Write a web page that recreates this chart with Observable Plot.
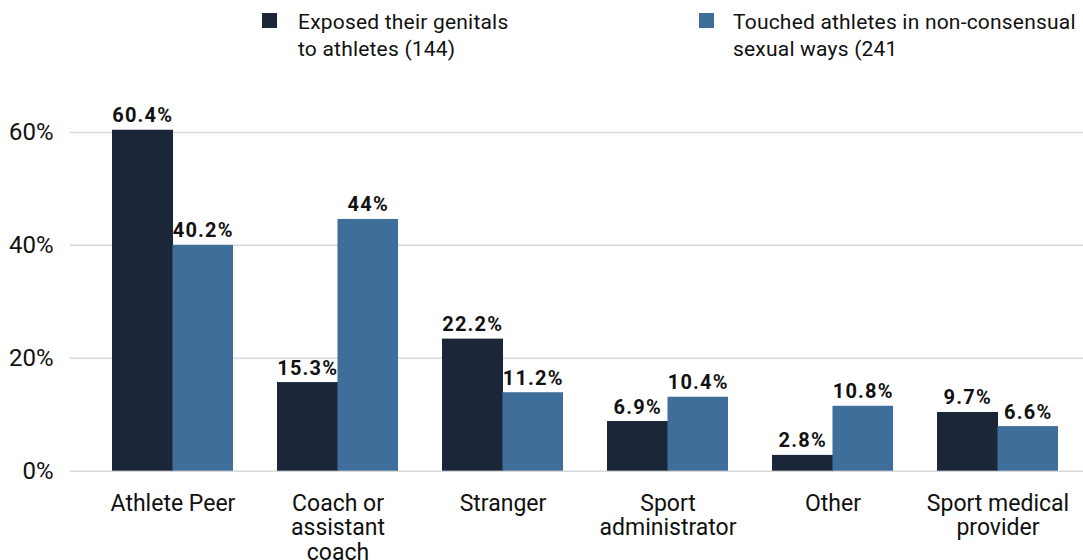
<!DOCTYPE html>
<html>
<head>
<meta charset="utf-8">
<script src="https://cdn.jsdelivr.net/npm/d3@7"></script>
<script src="https://cdn.jsdelivr.net/npm/@observablehq/plot@0.6"></script>
<style>
  html, body { margin: 0; padding: 0; background: #fff; }
  body { width: 1083px; height: 560px; overflow: hidden; font-family: Roboto, "Noto Sans", sans-serif; color: #111; }
  #legend { position: relative; height: 90px; }
  .swatch { position: absolute; top: 13px; width: 15px; height: 15px; }
  .ltext { position: absolute; top: 9px; font-size: 21px; line-height: 27px; letter-spacing: 0.2px; white-space: nowrap; color: #111; }
  #chart svg { display: block; }
</style>
</head>
<body>
<div id="legend"></div>
<div id="chart"></div>
<script>
const categories = ["Athlete Peer", "Coach or assistant coach", "Stranger", "Sport administrator", "Other", "Sport medical provider"];
const categoryLines = ["Athlete Peer", "Coach or\nassistant\ncoach", "Stranger", "Sport\nadministrator", "Other", "Sport medical\nprovider"];
const seriesNames = ["Exposed their genitals\nto athletes (144)", "Touched athletes in non-consensual\nsexual ways (241"];
const seriesColors = ["#1c2639", "#406e9a"];
// bar heights as drawn in the picture (%)
const exposedValues = [60.4, 15.7, 23.4, 8.8, 2.8, 10.4];
const touchedValues = [40.0, 44.6, 13.9, 13.1, 11.5, 7.9];
// printed labels
const exposedLabels = ["60.4%", "15.3%", "22.2%", "6.9%", "2.8%", "9.7%"];
const touchedLabels = ["40.2%", "44%", "11.2%", "10.4%", "10.8%", "6.6%"];
const yTicks = [0, 20, 40, 60];

// legend
const legend = document.getElementById("legend");
const swatchX = [262, 699];
const textX = [298, 733];
seriesNames.forEach((name, i) => {
  const sw = document.createElement("div");
  sw.className = "swatch";
  sw.style.left = swatchX[i] + "px";
  sw.style.background = seriesColors[i];
  legend.appendChild(sw);
  const t = document.createElement("div");
  t.className = "ltext";
  t.style.left = textX[i] + "px";
  t.innerHTML = name.split("\n").join("<br>");
  legend.appendChild(t);
});

const exposedRows = categories.map((c, i) => ({category: c, value: exposedValues[i], label: exposedLabels[i]}));
const touchedRows = categories.map((c, i) => ({category: c, value: touchedValues[i], label: touchedLabels[i]}));
const labelRows = categories.map((c, i) => ({category: c, text: categoryLines[i]}));

const W = 1083, H = 470, mL = 70, mR = 0;
const pIn = 0.267, pOut = 0.203;
const step = (W - mL - mR) / (categories.length - pIn + 2 * pOut);
const half = step * (1 - pIn) / 2;

const chart = Plot.plot({
  width: W,
  height: H,
  marginLeft: mL,
  marginRight: mR,
  marginTop: 42,
  marginBottom: 89.3,
  style: {fontFamily: "Roboto, 'Noto Sans', sans-serif", fontSize: "24px", color: "#111", background: "#fff"},
  x: {domain: categories, paddingInner: pIn, paddingOuter: pOut, align: 0.62, axis: null},
  y: {domain: [0, 60], ticks: yTicks, tickFormat: d => d + "%", tickSize: 0, tickPadding: 17, label: null},
  marks: [
    Plot.ruleY(yTicks, {stroke: "#d9d9d9", strokeWidth: 1.6}),
    Plot.barY(exposedRows, {x: "category", y: "value", fill: seriesColors[0], insetRight: half - 0.5}),
    Plot.barY(touchedRows, {x: "category", y: "value", fill: seriesColors[1], insetLeft: half}),
    Plot.text(exposedRows, {x: "category", y: "value", text: "label", dx: -half / 2, dy: -8, lineAnchor: "bottom", fontWeight: "bold", fontSize: 20, fill: "#111"}),
    Plot.text(touchedRows, {x: "category", y: "value", text: "label", dx: half / 2, dy: -8, lineAnchor: "bottom", fontWeight: "bold", fontSize: 20, fill: "#111"}),
    Plot.text(labelRows, {x: "category", text: "text", frameAnchor: "bottom", dy: 23, lineAnchor: "top", lineHeight: 1.05, fontSize: 23, fill: "#111"})
  ]
});
chart.querySelectorAll("g[font-weight='bold'] text").forEach(t => { t.style.letterSpacing = "1.2px"; });
document.getElementById("chart").appendChild(chart);
</script>
</body>
</html>
